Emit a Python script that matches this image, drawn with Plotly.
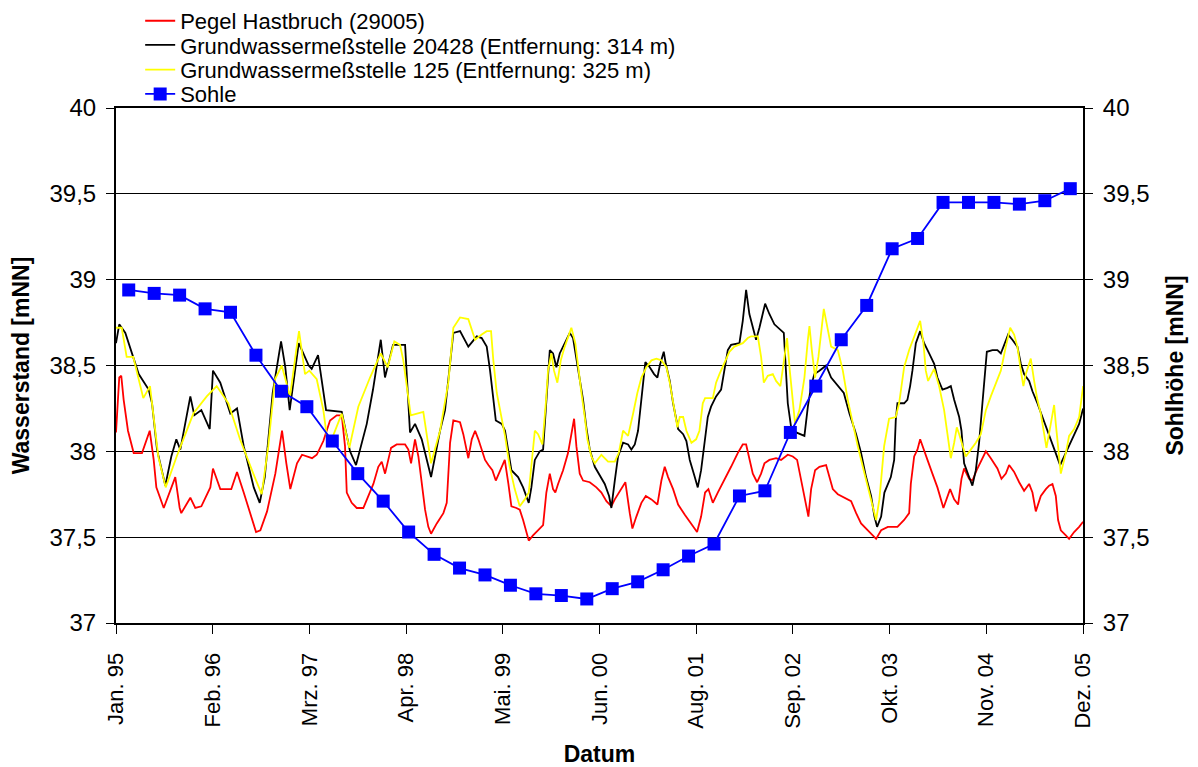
import datetime as dt
import plotly.graph_objects as go

# ---------------- data ----------------
# time positions given as years elapsed since 1 Jan 1995
t_pegel = [0.000, 0.037, 0.060, 0.087, 0.136, 0.201, 0.295, 0.383, 0.428, 0.458, 0.542, 0.617, 0.673, 0.723,
           0.741, 0.844, 0.900, 0.969, 1.071, 1.101, 1.184, 1.309, 1.374, 1.450, 1.544, 1.590, 1.639, 1.715,
           1.809, 1.885, 1.934, 1.979, 2.055, 2.112, 2.226, 2.279, 2.354, 2.430, 2.506, 2.563, 2.600, 2.620,
           2.676, 2.733, 2.808, 2.865, 2.922, 2.978, 3.017, 3.055, 3.092, 3.123, 3.187, 3.282, 3.319, 3.350,
           3.395, 3.433, 3.463, 3.509, 3.546, 3.577, 3.642, 3.717, 3.755, 3.773, 3.793, 3.830, 3.906, 3.943,
           3.982, 4.000, 4.039, 4.077, 4.114, 4.152, 4.190, 4.228, 4.273, 4.312, 4.343, 4.380, 4.414, 4.455,
           4.489, 4.546, 4.584, 4.622, 4.659, 4.686, 4.735, 4.792, 4.849, 4.886, 4.925, 4.962, 4.988, 5.019,
           5.076, 5.132, 5.163, 5.201, 5.227, 5.265, 5.303, 5.379, 5.454, 5.511, 5.568, 5.624, 5.663, 5.720,
           5.783, 5.833, 5.863, 5.908, 5.965, 6.015, 6.079, 6.147, 6.192, 6.230, 6.268, 6.325, 6.382, 6.458,
           6.526, 6.597, 6.643, 6.688, 6.726, 6.776, 6.832, 6.907, 6.983, 7.059, 7.116, 7.154, 7.191, 7.230,
           7.279, 7.324, 7.362, 7.418, 7.494, 7.551, 7.627, 7.684, 7.733, 7.778, 7.816, 7.861, 7.892, 7.937,
           7.986, 8.062, 8.100, 8.138, 8.195, 8.270, 8.346, 8.403, 8.459, 8.536, 8.593, 8.630, 8.687, 8.763,
           8.872, 8.948, 9.005, 9.024, 9.062, 9.099, 9.130, 9.175, 9.213, 9.269, 9.326, 9.394, 9.440, 9.470,
           9.516, 9.561, 9.599, 9.629, 9.686, 9.723, 9.780, 9.837, 9.876, 9.932, 10.007, 10.053, 10.103,
           10.140, 10.197, 10.254, 10.310, 10.367, 10.405, 10.443, 10.500, 10.557, 10.594, 10.632, 10.670,
           10.696, 10.727, 10.784, 10.821, 10.878, 10.935, 10.980]
v_pegel = [38.11, 38.43, 38.44, 38.30, 38.12, 37.99, 37.99, 38.12, 37.95, 37.79, 37.67, 37.78, 37.85, 37.67,
           37.64, 37.73, 37.67, 37.68, 37.79, 37.90, 37.78, 37.78, 37.88, 37.76, 37.60, 37.53, 37.54, 37.65,
           37.87, 38.12, 37.93, 37.78, 37.93, 37.98, 37.96, 37.98, 38.06, 38.18, 38.21, 38.21, 38.03, 37.76,
           37.70, 37.67, 37.67, 37.74, 37.81, 37.91, 37.94, 37.87, 37.95, 38.02, 38.04, 38.04, 38.01, 37.93,
           38.07, 37.97, 37.85, 37.66, 37.56, 37.52, 37.58, 37.64, 37.70, 37.85, 38.05, 38.18, 38.17, 38.10,
           37.99, 37.96, 38.07, 38.12, 38.07, 38.01, 37.95, 37.92, 37.89, 37.83, 37.87, 37.91, 37.95, 37.81,
           37.68, 37.67, 37.66, 37.60, 37.52, 37.48, 37.51, 37.54, 37.57, 37.76, 37.87, 37.78, 37.76, 37.81,
           37.89, 37.99, 38.09, 38.19, 38.03, 37.87, 37.83, 37.82, 37.79, 37.76, 37.71, 37.68, 37.72, 37.77,
           37.82, 37.64, 37.55, 37.62, 37.70, 37.74, 37.72, 37.69, 37.83, 37.91, 37.85, 37.78, 37.69, 37.63,
           37.58, 37.53, 37.62, 37.76, 37.78, 37.70, 37.76, 37.83, 37.91, 37.99, 38.04, 38.04, 37.95, 37.87,
           37.82, 37.87, 37.93, 37.95, 37.96, 37.95, 37.98, 37.97, 37.95, 37.83, 37.74, 37.62, 37.78, 37.89,
           37.91, 37.92, 37.85, 37.78, 37.75, 37.73, 37.71, 37.64, 37.58, 37.54, 37.51, 37.49, 37.54, 37.56,
           37.56, 37.60, 37.64, 37.81, 37.97, 38.01, 38.07, 38.01, 37.95, 37.87, 37.79, 37.67, 37.73, 37.78,
           37.72, 37.69, 37.84, 37.90, 37.84, 37.83, 37.90, 37.96, 38.00, 37.96, 37.90, 37.84, 37.87,
           37.92, 37.88, 37.82, 37.77, 37.81, 37.76, 37.65, 37.74, 37.78, 37.80, 37.81, 37.74,
           37.60, 37.54, 37.51, 37.49, 37.53, 37.56, 37.59]

t_gw20428 = [0.000, 0.037, 0.106, 0.182, 0.258, 0.371, 0.409, 0.466, 0.560, 0.628, 0.685, 0.730, 0.787, 0.844,
             0.889, 0.969, 1.064, 1.101, 1.184, 1.298, 1.374, 1.450, 1.564, 1.632, 1.689, 1.779, 1.874, 1.922,
             1.972, 2.047, 2.075, 2.188, 2.222, 2.294, 2.350, 2.385, 2.563, 2.657, 2.725, 2.847, 2.918, 3.006,
             3.054, 3.145, 3.282, 3.338, 3.395, 3.471, 3.577, 3.679, 3.736, 3.793, 3.830, 3.906, 4.000, 4.096,
             4.152, 4.209, 4.247, 4.312, 4.380, 4.417, 4.489, 4.565, 4.622, 4.686, 4.716, 4.755, 4.811, 4.849,
             4.886, 4.925, 4.962, 5.000, 5.038, 5.095, 5.152, 5.189, 5.246, 5.303, 5.340, 5.379, 5.436, 5.549,
             5.598, 5.624, 5.663, 5.700, 5.757, 5.814, 5.851, 5.890, 5.927, 5.965, 6.010, 6.060, 6.109, 6.147,
             6.174, 6.219, 6.242, 6.287, 6.325, 6.382, 6.439, 6.476, 6.514, 6.571, 6.605, 6.643, 6.680, 6.719,
             6.756, 6.813, 6.870, 6.907, 6.946, 6.983, 7.078, 7.116, 7.154, 7.191, 7.230, 7.267, 7.305, 7.370,
             7.418, 7.475, 7.582, 7.600, 7.627, 7.665, 7.722, 7.816, 7.855, 7.892, 7.929, 7.986, 8.062, 8.119,
             8.195, 8.263, 8.327, 8.403, 8.459, 8.516, 8.573, 8.611, 8.641, 8.687, 8.724, 8.797, 8.835, 8.853,
             8.872, 8.948, 8.985, 9.016, 9.042, 9.081, 9.130, 9.175, 9.232, 9.289, 9.326, 9.383, 9.440, 9.478,
             9.516, 9.573, 9.599, 9.629, 9.686, 9.723, 9.762, 9.799, 9.837, 9.867, 9.887, 9.950, 10.007,
             10.046, 10.083, 10.129, 10.177, 10.234, 10.273, 10.310, 10.367, 10.405, 10.461, 10.518, 10.557,
             10.613, 10.670, 10.719, 10.765, 10.821, 10.878, 10.935, 10.980]
v_gw20428 = [38.63, 38.74, 38.69, 38.57, 38.45, 38.36, 38.28, 38.01, 37.80, 37.97, 38.07, 38.01, 38.16, 38.32,
             38.21, 38.24, 38.13, 38.47, 38.40, 38.22, 38.25, 38.03, 37.79, 37.70, 37.85, 38.34, 38.64, 38.49,
             38.24, 38.53, 38.63, 38.50, 38.48, 38.56, 38.36, 38.24, 38.23, 38.00, 37.92, 38.16, 38.36, 38.65,
             38.43, 38.62, 38.62, 38.11, 38.16, 38.07, 37.85, 38.12, 38.24, 38.53, 38.69, 38.70, 38.61, 38.67,
             38.66, 38.61, 38.47, 38.18, 38.16, 38.12, 37.89, 37.85, 37.79, 37.70, 37.79, 37.95, 38.00, 38.01,
             38.30, 38.59, 38.57, 38.49, 38.57, 38.63, 38.69, 38.66, 38.47, 38.30, 38.14, 38.01, 37.91, 37.81,
             37.74, 37.67, 37.83, 37.97, 38.05, 38.04, 38.01, 38.04, 38.12, 38.30, 38.52, 38.49, 38.45, 38.43,
             38.50, 38.58, 38.51, 38.41, 38.28, 38.13, 38.10, 38.06, 37.95, 37.85, 37.79, 37.89, 38.05, 38.20,
             38.26, 38.32, 38.36, 38.47, 38.59, 38.62, 38.63, 38.76, 38.94, 38.80, 38.72, 38.65, 38.72, 38.86,
             38.80, 38.74, 38.69, 38.53, 38.28, 38.14, 38.11, 38.09, 38.26, 38.38, 38.45, 38.47, 38.50, 38.43,
             38.38, 38.34, 38.22, 38.10, 37.99, 37.85, 37.74, 37.62, 37.56, 37.62, 37.76, 37.85, 37.95, 38.18,
             38.28, 38.28, 38.30, 38.38, 38.47, 38.63, 38.70, 38.63, 38.57, 38.51, 38.43, 38.36, 38.37, 38.38,
             38.30, 38.20, 38.12, 37.93, 37.85, 37.80, 37.89, 38.05, 38.28, 38.47, 38.58, 38.59, 38.59,
             38.57, 38.62, 38.68, 38.65, 38.61, 38.51, 38.45, 38.41, 38.35, 38.28, 38.20, 38.14,
             38.06, 37.99, 37.92, 37.97, 38.03, 38.10, 38.16, 38.25]

t_gw125 = [0.000, 0.065, 0.121, 0.196, 0.310, 0.386, 0.480, 0.564, 0.689, 0.878, 1.030, 1.143, 1.275, 1.408,
           1.559, 1.654, 1.729, 1.805, 1.882, 1.976, 2.052, 2.078, 2.146, 2.195, 2.279, 2.354, 2.393, 2.449,
           2.563, 2.649, 2.751, 2.884, 3.006, 3.085, 3.160, 3.225, 3.262, 3.346, 3.489, 3.577, 3.679, 3.773,
           3.830, 3.906, 4.000, 4.077, 4.152, 4.209, 4.258, 4.284, 4.323, 4.380, 4.417, 4.470, 4.527, 4.584,
           4.641, 4.686, 4.716, 4.755, 4.792, 4.841, 4.880, 4.905, 4.943, 4.973, 5.011, 5.050, 5.095, 5.132,
           5.170, 5.215, 5.246, 5.284, 5.322, 5.352, 5.397, 5.436, 5.511, 5.587, 5.663, 5.708, 5.757, 5.814,
           5.871, 5.919, 5.965, 6.022, 6.079, 6.135, 6.192, 6.249, 6.287, 6.325, 6.374, 6.401, 6.439, 6.476,
           6.533, 6.586, 6.624, 6.662, 6.688, 6.776, 6.813, 6.851, 6.907, 6.964, 7.021, 7.116, 7.173, 7.211,
           7.287, 7.324, 7.355, 7.400, 7.457, 7.494, 7.543, 7.582, 7.619, 7.650, 7.684, 7.710, 7.759, 7.816,
           7.855, 7.873, 7.900, 7.937, 7.975, 8.013, 8.036, 8.081, 8.119, 8.195, 8.252, 8.308, 8.365, 8.422,
           8.479, 8.536, 8.593, 8.630, 8.667, 8.706, 8.721, 8.777, 8.853, 8.891, 8.948, 9.005, 9.081, 9.130,
           9.167, 9.194, 9.220, 9.289, 9.345, 9.402, 9.440, 9.478, 9.516, 9.546, 9.573, 9.610, 9.648, 9.705,
           9.762, 9.819, 9.876, 9.932, 9.989, 10.046, 10.103, 10.152, 10.197, 10.234, 10.273, 10.302, 10.330,
           10.386, 10.424, 10.461, 10.500, 10.564, 10.613, 10.651, 10.670, 10.708, 10.727, 10.784, 10.821,
           10.878, 10.935, 10.980]
v_gw125 = [38.72, 38.72, 38.55, 38.55, 38.31, 38.38, 37.97, 37.79, 37.97, 38.22, 38.32, 38.38, 38.28, 38.07,
           37.87, 37.75, 38.03, 38.42, 38.50, 38.32, 38.61, 38.70, 38.45, 38.47, 38.42, 38.24, 38.09, 38.07,
           38.22, 38.02, 38.26, 38.43, 38.57, 38.49, 38.64, 38.62, 38.53, 38.21, 38.23, 37.93, 38.12, 38.40,
           38.72, 38.78, 38.77, 38.65, 38.68, 38.70, 38.70, 38.53, 38.34, 38.18, 38.09, 37.91, 37.78, 37.68,
           37.72, 37.76, 37.91, 38.12, 38.10, 38.04, 38.28, 38.47, 38.57, 38.47, 38.40, 38.53, 38.61, 38.67,
           38.72, 38.63, 38.49, 38.34, 38.20, 38.07, 37.97, 37.93, 37.98, 37.94, 37.94, 37.99, 38.12, 38.09,
           38.22, 38.34, 38.43, 38.49, 38.53, 38.54, 38.53, 38.49, 38.40, 38.28, 38.14, 38.20, 38.20, 38.12,
           38.05, 38.07, 38.12, 38.28, 38.31, 38.31, 38.40, 38.45, 38.51, 38.58, 38.61, 38.63, 38.66, 38.67,
           38.67, 38.55, 38.40, 38.44, 38.45, 38.41, 38.38, 38.51, 38.66, 38.47, 38.28, 38.16, 38.24, 38.43,
           38.65, 38.73, 38.59, 38.43, 38.55, 38.72, 38.83, 38.71, 38.61, 38.59, 38.47, 38.30, 38.16, 38.03,
           37.91, 37.79, 37.68, 37.60, 37.72, 37.93, 38.03, 38.19, 38.20, 38.28, 38.49, 38.59, 38.69, 38.76,
           38.63, 38.47, 38.41, 38.48, 38.38, 38.24, 38.10, 37.96, 38.05, 38.14, 38.10, 38.04, 37.97, 38.01,
           38.05, 38.10, 38.24, 38.32, 38.40, 38.47, 38.61, 38.72, 38.68, 38.61, 38.47, 38.38, 38.45,
           38.54, 38.41, 38.30, 38.22, 38.02, 38.16, 38.27, 38.16, 37.99, 37.87, 37.99, 38.09,
           38.13, 38.20, 38.38]

# Sohle: longitudinal profile, 38 stations on a secondary category axis
sohle_station = list(range(1, 39))
sohle_hoehe = [38.94, 38.92, 38.91, 38.83, 38.81, 38.56, 38.35, 38.26, 38.06, 37.87, 37.71, 37.53, 37.40,
               37.32, 37.28, 37.22, 37.17, 37.16, 37.14, 37.20, 37.24, 37.31, 37.39, 37.46, 37.74, 37.77,
               38.11, 38.38, 38.65, 38.85, 39.18, 39.24, 39.45, 39.45, 39.45, 39.44, 39.46, 39.53]

x_tick_labels = ["Jan. 95", "Feb. 96", "Mrz. 97", "Apr. 98", "Mai. 99", "Jun. 00",
                 "Aug. 01", "Sep. 02", "Okt. 03", "Nov. 04", "Dez. 05"]
x_tick_step_days = 401
y_tick_vals = [37, 37.5, 38, 38.5, 39, 39.5, 40]
y_tick_text = ["37", "37,5", "38", "38,5", "39", "39,5", "40"]

# ---------------- figure ----------------
start = dt.datetime(1995, 1, 1)


def to_dates(ts):
    return [start + dt.timedelta(days=t * 365.25) for t in ts]


x_tick_vals = [start + dt.timedelta(days=i * x_tick_step_days) for i in range(len(x_tick_labels))]
x_end = x_tick_vals[-1]

FONT = "Liberation Sans, Arial, sans-serif"
LEG_FONT = dict(family=FONT, size=22, color="black")

fig = go.Figure()
fig.add_trace(go.Scatter(x=to_dates(t_pegel), y=v_pegel, mode="lines", name="Pegel Hastbruch (29005)",
                         line=dict(color="#FF0000", width=1.8), legend="legend"))
fig.add_trace(go.Scatter(x=to_dates(t_gw20428), y=v_gw20428, mode="lines",
                         name="Grundwassermeßstelle 20428 (Entfernung: 314 m)",
                         line=dict(color="#000000", width=1.8), legend="legend2"))
fig.add_trace(go.Scatter(x=to_dates(t_gw125), y=v_gw125, mode="lines",
                         name="Grundwassermeßstelle 125 (Entfernung: 325 m)",
                         line=dict(color="#FFFF00", width=1.8), legend="legend3"))
fig.add_trace(go.Scatter(x=sohle_station, y=sohle_hoehe, mode="lines+markers", name="Sohle",
                         xaxis="x2", yaxis="y2", legend="legend4",
                         line=dict(color="#0000FF", width=1.8),
                         marker=dict(symbol="square", size=13, color="#0000FF")))


def leg(ypos):
    return dict(x=0.025, y=ypos, xanchor="left", yanchor="middle", bgcolor="rgba(0,0,0,0)",
                font=LEG_FONT, borderwidth=0)


fig.update_layout(
    width=1190, height=759,
    margin=dict(l=108, r=115, t=100, b=144, autoexpand=False),
    paper_bgcolor="white", plot_bgcolor="white",
    font=dict(family=FONT, size=22, color="black"),
    showlegend=True,
    legend=leg(1.169), legend2=leg(1.122), legend3=leg(1.074), legend4=leg(1.027),
    xaxis=dict(type="date", range=[start, x_end], tickmode="array", tickvals=x_tick_vals,
               ticktext=x_tick_labels, tickangle=-90, ticks="outside", ticklen=9, tickwidth=1,
               tickcolor="black", showline=True, linecolor="black", linewidth=2, mirror=True,
               showgrid=False, zeroline=False, tickfont=dict(size=22), ticklabelstandoff=10,
               title=dict(text="<b>Datum</b>", font=dict(size=23), standoff=20)),
    yaxis=dict(range=[37, 40], tickmode="array", tickvals=y_tick_vals, ticktext=y_tick_text,
               ticks="outside", ticklen=8, tickwidth=1, tickcolor="black", ticklabelstandoff=5,
               showline=True, linecolor="black", linewidth=2, showgrid=True, gridcolor="black",
               gridwidth=1, zeroline=False, tickfont=dict(size=24),
               title=dict(text="<b>Wasserstand [mNN]</b>", font=dict(size=23), standoff=14)),
    xaxis2=dict(overlaying="x", range=[0.5, 38.5], visible=False, anchor="y"),
    yaxis2=dict(overlaying="y", side="right", anchor="x", range=[37, 40], tickmode="array",
                tickvals=y_tick_vals, ticktext=y_tick_text, ticks="outside", ticklen=8, tickwidth=1,
                tickcolor="black", ticklabelstandoff=5, showline=True, linecolor="black", linewidth=2,
                showgrid=False, zeroline=False, tickfont=dict(size=24),
                title=dict(text="<b>Sohlhöhe [mNN]</b>", font=dict(size=23), standoff=18)),
)

fig.write_html("out.html")
